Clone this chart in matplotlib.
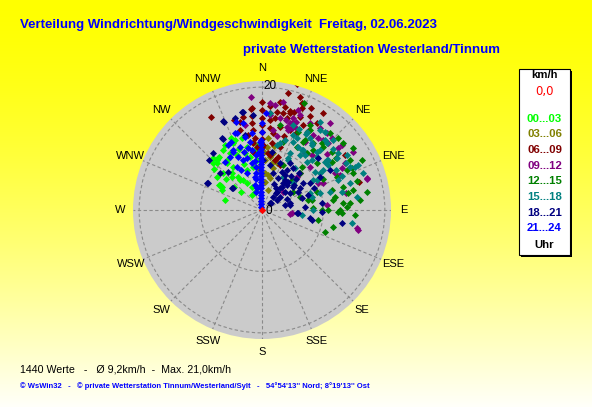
import matplotlib
matplotlib.use("Agg")
import matplotlib.pyplot as plt
import numpy as np
from matplotlib.patches import Rectangle

plt.rcParams["font.family"] = ["Liberation Sans", "DejaVu Sans"]

# ---- data: wind vectors per 3h block, east / north component in km/h ----
east_0003 = [-6.3, -7.2, -7.3, -6.3, -6.8, -6.5, -6.0, -4.9, -3.9, -3.1, -2.4, -1.6, -1.1, -1.6,
             -2.4, -1.5, -4.7, -5.2, -4.7, -2.4, -0.3, -0.8, -5.7, -6.7, -3.6, -7.0, -7.3, -6.5,
             -4.9, -4.4, -3.3, -8.0, -7.3, -5.5, -4.0, -3.0, -2.0, -5.8, -4.5, -3.5, -6.0, -5.0,
             -2.8, -1.0, -3.7, -7.0, -0.7, -8.0, -7.8]
north_0003 = [9.8, 8.5, 7.6, 6.0, 4.1, 3.3, 1.6, 6.0, 5.4, 4.9, 4.4, 3.7, 2.9, 2.4,
              6.5, 7.0, 7.0, 9.3, 10.9, 10.2, 9.3, 8.1, 7.6, 3.9, 4.9, 8.6, 8.1, 3.7,
              5.4, 11.4, 11.7, 7.6, 5.4, 8.3, 8.9, 7.5, 8.6, 5.0, 3.8, 2.9, 10.5, 11.8,
              9.2, 10.0, 10.0, 4.1, 10.6, 8.5, 6.6]

east_0306 = [0.8, 1.3, 1.6, 1.8, 1.0, 0.5, -1.5, 1.8, 2.4, -0.3, 0.5, 0.5, 1.3, 0.3, 1.0, 2.0, -0.6, 0.9]
north_0306 = [10.2, 8.6, 7.6, 6.8, 5.7, 4.6, 11.1, 9.3, 7.6, 3.7, 6.0, 8.1, 5.2, 9.5, 3.2, 10.4, 6.8, 11.8]

east_0609 = [5.7, 4.3, -8.3, -3.6, -3.1, -1.6, -1.6, -1.6, 0.0, 0.0, 0.0, 0.0, 0.0, 1.3, 1.3,
             1.3, 1.3, -1.5, -1.1, -3.6, -2.3, -0.8, 0.2, 6.5, 6.5, 4.6, 3.4, 2.4, 2.1, 4.1,
             6.2, 7.8, 9.9, 8.9, 6.7, 5.0, 2.9, 4.6, 1.8, 6.2, 13.5, 15.8, 1.3, 2.6, 4.6,
             0.0, 1.0, 2.1, 2.9, 1.6, 2.9, -1.5, -1.5, -4.6, 3.6, 5.5, 7.5, 3.0, 0.0, -1.8,
             3.8, 5.2, 8.0]
north_0609 = [20.5, 19.0, 15.1, 14.3, 15.1, 16.6, 15.3, 14.1, 16.3, 15.0, 13.8, 12.7, 11.5, 16.9, 15.8,
              14.6, 13.3, 13.0, 11.7, 13.0, 12.2, 10.2, 10.6, 17.4, 16.6, 15.8, 15.8, 15.9, 15.0, 15.0,
              15.1, 15.3, 15.8, 14.1, 13.8, 14.1, 13.5, 13.0, 12.5, 18.4, 8.9, 4.6, 8.9, 8.6, 16.1,
              10.2, 9.3, 8.1, 7.3, 10.9, 10.2, 10.9, 9.4, 14.6, 12.0, 12.5, 12.8, 17.5, 17.5, 16.4,
              16.8, 16.0, 16.6]

east_0912 = [-1.8, 3.4, 2.1, 4.9, 5.4, 4.1, 11.1, 9.1, 10.7, 14.8, 13.0, 1.3, 1.8, 5.9, 5.0,
             4.9, 9.9, 11.4, 12.4, 13.0, 17.1, 3.4, 4.6, 4.9, 11.9, 12.7, 13.7, 17.1, 15.4, 15.6,
             9.9, 10.6, 7.8, 9.1, 6.2, 13.5, 5.7, 10.6, 7.0, 8.1, 4.6, 4.2, -2.8, 1.3, 6.2,
             7.8, 9.4, 8.3, 3.0, 2.5, 7.0, 3.9, 5.6, 10.5]
north_0912 = [18.4, 17.6, 17.1, 14.1, 13.5, 13.5, 14.1, 11.7, 10.9, 9.4, 10.6, 17.4, 13.0, 16.3, 15.0,
              13.3, 11.4, 11.7, 10.1, 6.8, 5.0, 2.9, -0.7, -0.5, 6.0, 5.7, 2.8, 5.2, -2.9, -3.3,
              4.4, 0.8, 7.0, 4.4, 6.0, 7.6, 5.4, 9.1, 9.3, 8.9, 14.1, 13.0, 13.8, 15.4, 15.4,
              14.1, 13.3, 12.2, 15.0, 12.0, 11.0, 14.6, 14.4, 12.6]

east_1215 = [6.8, 7.8, 13.2, 14.8, 16.3, 14.3, 13.8, 11.4, 9.9, 8.3, 7.0, 17.1, 15.9, 13.8, 11.5,
             8.1, 7.8, 5.9, 6.7, 12.4, 8.3, 11.4, 14.6, 14.8, 12.2, 13.2, 14.3, 14.8, 14.0, 12.7,
             13.0, 11.5, 10.2, 9.1, 9.8, 10.7, 8.3, 7.5, 13.2, 11.4, 11.9, 6.2, 5.0, 15.1, 12.4,
             9.8, 7.3, 5.7, 3.4, 8.9, 6.2, 4.9, 2.9, 3.4, 10.0, 12.0, 9.0, 11.0, 6.5, 15.5]
north_1215 = [17.4, 13.0, 10.9, 10.1, 8.1, 8.1, 6.5, 7.8, 10.2, 9.8, 11.4, 2.9, 1.6, 0.5, 1.6,
              1.6, 13.8, 12.7, 11.1, 11.7, 10.9, 9.4, 6.8, 6.0, 5.4, 1.1, 1.1, 3.3, 2.8, 0.0,
              -0.5, -2.8, -3.6, -1.6, 0.0, 0.0, 0.3, 1.6, 3.7, 3.3, 2.1, 2.1, 2.9, -0.8, -0.3,
              10.9, 9.3, 10.2, 7.3, 7.6, 6.0, 4.9, 13.8, 11.1, 5.0, 8.5, 3.0, 12.6, 7.0, 4.8]

east_1518 = [1.3, 5.0, 9.4, 10.6, 12.4, 13.8, 15.1, 14.3, 12.4, 15.4, 10.7, 8.1, 9.9, 8.9, 8.1,
             11.1, 13.0, 6.2, 4.2, 2.9, 5.7, 7.2, 8.1, 8.9, 13.7, 15.6, 14.3, 14.6, 9.4, 8.3,
             7.8, 6.5, 8.3, 12.2, 10.7, 7.0, 4.2, 5.4, 5.0, 10.2, 9.4, 9.4, 10.2, 11.5, 6.5,
             2.4, 3.7, 5.0, 5.9, 6.7, 8.1, 9.4, 10.2, 8.9, 10.6, 7.3, 4.6, 5.0, 7.3, 3.4,
             8.6, 16.5, 12.0, 11.5, 13.0, 6.0, 7.8]
north_1518 = [15.8, 13.8, 13.0, 10.9, 9.3, 8.9, 7.0, 4.4, 4.9, 2.1, 8.1, 8.1, 6.5, 4.9, 2.1,
              2.9, 2.9, 8.9, 8.1, 10.9, 11.7, 12.4, 10.9, 9.4, 7.6, 7.3, 7.0, -2.1, 6.0, 4.9,
              2.8, -0.8, 0.0, 8.5, 7.3, 9.0, 8.5, 6.8, 4.4, 7.8, 2.8, 14.3, 12.7, 11.4, 9.8,
              10.6, 11.4, 11.1, 10.2, 9.8, 10.6, 9.8, 11.4, 8.6, 8.1, 7.8, 9.3, 12.2, 12.7, 5.4,
              6.2, 6.0, 6.5, 10.0, 5.5, 13.2, 11.8]

east_1821 = [-8.6, -8.0, -6.3, -3.1, -6.3, 2.3, 2.4, 4.1, 4.6, 7.0, 5.9, 3.7, 3.4, 4.2, 5.0,
             3.7, 3.3, 2.4, 1.8, 2.9, 4.6, 6.2, 6.7, 2.6, 4.1, 5.0, 4.6, 2.9, 1.3, 1.8,
             1.3, 4.6, 5.7, 7.8, 9.8, 13.0, 9.8, 7.5, 9.1, 1.6, 0.2, 9.4, 7.8, 4.1, 11.1,
             -8.9, -4.9, 1.5, 3.7, 5.9, 8.1, -6.8, -8.8, -4.7, -5.5, -3.3, -6.2, -4.4, -6.5, -1.5,
             3.0, 5.5, 6.5, 3.8, 4.8, 2.0, 6.0, 8.5, -2.8, 2.2, 3.2, 5.2]
north_1821 = [8.1, 9.3, 11.5, 15.9, 14.5, 2.8, 1.6, 1.8, 0.8, 0.5, 2.9, 4.9, 4.4, 4.6, 3.8,
              5.7, 3.7, 2.9, 2.1, 2.1, 2.8, 3.6, 4.4, 5.2, 6.5, 6.8, 7.6, 7.6, 7.3, 6.0,
              1.1, 1.1, -0.5, -1.3, 1.1, -2.1, -0.3, 2.4, 8.5, 9.4, 8.1, 5.4, 4.4, 4.1, 6.5,
              4.4, 3.6, 1.1, 0.8, -0.5, -1.6, 6.0, 4.4, 3.6, 6.2, 15.9, 14.3, 15.0, 11.7, 15.4,
              3.5, 5.0, 2.0, 3.0, 5.6, 4.2, 6.0, 3.5, 12.2, 3.6, 6.2, 4.0]

east_2124 = [-0.2, -0.2, -0.1, -0.2, -0.1, -0.2, -0.2, -0.1, -0.2, -0.1, -0.2, -0.2, -0.1, -0.2,
             -0.1, -0.2, -0.2, -0.1, -0.2, -0.1, -0.2, -0.2, -0.1, 0.0, 0.0,
             -1.0, -1.1, -1.0, -0.9, -1.0, -1.1, -1.0,
             -4.4, -2.8, -3.6, -4.7, -3.9, -5.2, -6.0, -4.1, -3.1, -1.6, -1.6, -2.4, -1.1, -0.8,
             -0.3, -3.1, -4.1, -1.6, -4.7, -2.3, -0.6, -4.2, 0.7, -2.0, -3.0, -5.0, -2.5, -5.5, -3.5]
north_2124 = [0.5, 1.0, 1.5, 2.0, 2.5, 3.0, 3.5, 4.0, 4.5, 5.0, 5.5, 6.0, 6.5, 7.0,
              7.5, 8.0, 8.5, 9.0, 9.5, 10.0, 10.5, 11.0, 11.4, 12.7, 14.1,
              3.0, 4.0, 5.0, 6.0, 7.0, 8.0, 9.0,
              12.5, 11.9, 10.2, 9.8, 8.6, 8.6, 7.8, 7.0, 8.1, 9.8, 7.6, 6.0, 5.4, 3.6,
              11.0, 14.1, 12.5, 12.5, 9.4, 10.1, 9.3, 14.3, 15.8, 11.0, 9.5, 11.0, 8.5, 10.5, 6.5]

periods = ["00...03", "03...06", "06...09", "09...12", "12...15", "15...18", "18...21", "21...24"]
period_colors = ["#00ff00", "#808000", "#800000", "#800080", "#008000", "#008080", "#000080", "#0000ff"]
period_east = [east_0003, east_0306, east_0609, east_0912, east_1215, east_1518, east_1821, east_2124]
period_north = [north_0003, north_0306, north_0609, north_0912, north_1215, north_1518, north_1821, north_2124]

compass = ["N", "NNE", "NE", "ENE", "E", "ESE", "SE", "SSE",
           "S", "SSW", "SW", "WSW", "W", "WNW", "NW", "NNW"]

title1 = "Verteilung Windrichtung/Windgeschwindigkeit  Freitag, 02.06.2023"
title2 = "private Wetterstation Westerland/Tinnum"
stats = "1440 Werte   -   \u00d8 9,2km/h  -  Max. 21,0km/h"
footer = ("\u00a9 WsWin32   -   \u00a9 private Wetterstation Tinnum/Westerland/Sylt   -   "
          "54\u00b054'13'' Nord; 8\u00b019'13'' Ost")

# ---- layout (pixels) ----
W, H = 592, 407
CX, CY, R_PX = 262, 210, 129
R_MAX = 21.0

fig = plt.figure(figsize=(W / 100, H / 100), dpi=100)

bg = fig.add_axes([0, 0, 1, 1])
bg.set_xlim(0, W)
bg.set_ylim(H, 0)
bg.axis("off")
t = np.linspace(0, 1, 300)[:, None, None]
grad = np.concatenate([np.ones_like(t), np.ones_like(t), 0.98 * t ** 1.5], axis=2)
bg.imshow(grad, extent=(0, W, H, 0), aspect="auto", zorder=0)

bg.text(20, 25, title1, color="#0000ff", fontsize=9.5, weight="bold", va="center")
bg.text(243, 50, title2, color="#0000ff", fontsize=9.5, weight="bold", va="center")
bg.text(20, 369, stats, color="black", fontsize=7.7, va="center")
bg.text(20, 386, footer, color="#0000ff", fontsize=5.5, weight="bold", va="center")

# legend box
bg.add_patch(Rectangle((521, 71), 51, 186, facecolor="black", edgecolor="none", zorder=2))
bg.add_patch(Rectangle((519, 69), 51, 186, facecolor="white", edgecolor="black", lw=0.8, zorder=3))
lx = 544.5
bg.text(lx, 75, "km/h", fontsize=8.2, weight="bold", ha="center", va="center", zorder=4)
bg.text(lx, 91, "0,0", fontsize=8.4, color="#ff0000", ha="center", va="center", zorder=4,
        family="DejaVu Sans")
for i, (lab, col) in enumerate(zip(periods, period_colors)):
    bg.text(lx, 118.5 + i * 15.7, lab, fontsize=8.2, weight="bold", color=col,
            ha="center", va="center", zorder=4)
bg.text(lx, 245, "Uhr", fontsize=8.2, weight="bold", ha="center", va="center", zorder=4)

# ---- wind rose ----
ax = fig.add_axes([(CX - R_PX) / W, (H - CY - R_PX) / H, 2 * R_PX / W, 2 * R_PX / H],
                  projection="polar")
ax.set_theta_zero_location("N")
ax.set_theta_direction(-1)
ax.set_ylim(0, R_MAX)
ax.set_facecolor("#cbcbcb")
ax.spines["polar"].set_visible(False)
ax.set_xticks(np.deg2rad(np.arange(0, 360, 22.5)))
ax.set_xticklabels([])
ax.set_yticks([10, 20])
ax.set_yticklabels([])
ax.grid(True, color="#8a8a8a", linestyle=(0, (3, 2.2)), linewidth=0.8)

for i, name in enumerate(compass):
    ax.text(np.deg2rad(i * 22.5), 23.1, name, fontsize=8, ha="center", va="center",
            clip_on=False)
ax.annotate("0", xy=(0, 0), xytext=(7, -1), textcoords="offset pixels",
            fontsize=8.5, ha="center", va="center", zorder=6)
ax.annotate("20", xy=(0, 20), xytext=(8, 1), textcoords="offset pixels",
            fontsize=8.5, ha="center", va="center", zorder=6)

for east, north, col in zip(period_east, period_north, period_colors):
    e = np.asarray(east)
    n = np.asarray(north)
    ax.scatter(np.arctan2(e, n), np.hypot(e, n), s=13, marker="D", color=col,
               linewidths=0, zorder=3)
ax.scatter([0], [0], s=14, marker="D", color="#ff0000", linewidths=0, zorder=5)

fig.savefig("out.png", dpi=100)
